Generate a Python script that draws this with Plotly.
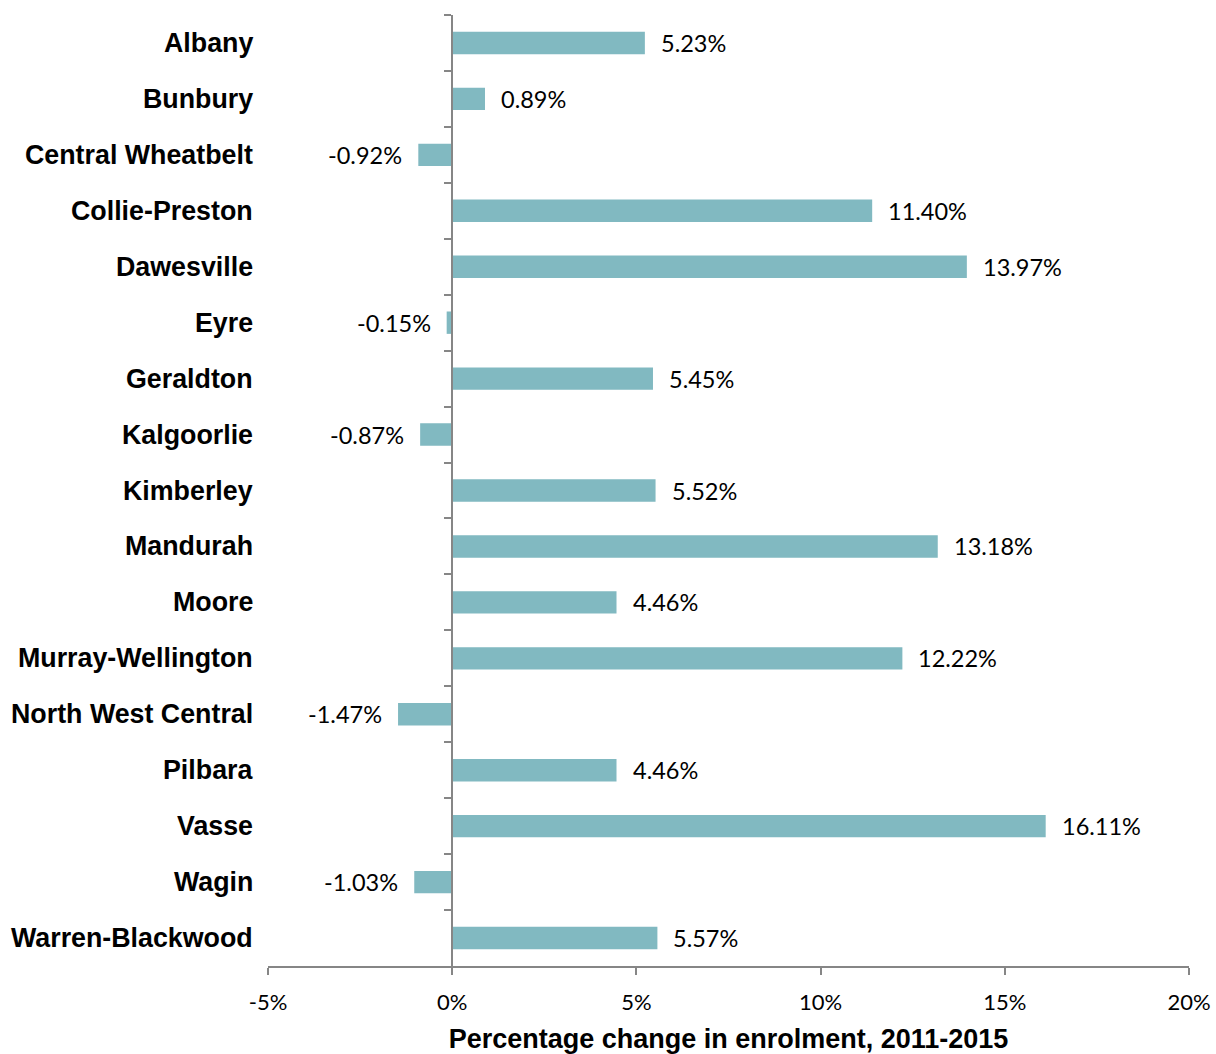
import plotly.graph_objects as go

regions = [
    "Albany", "Bunbury", "Central Wheatbelt", "Collie-Preston", "Dawesville",
    "Eyre", "Geraldton", "Kalgoorlie", "Kimberley", "Mandurah", "Moore",
    "Murray-Wellington", "North West Central", "Pilbara", "Vasse", "Wagin",
    "Warren-Blackwood",
]
change_pct = [
    5.23, 0.89, -0.92, 11.40, 13.97, -0.15, 5.45, -0.87, 5.52, 13.18, 4.46,
    12.22, -1.47, 4.46, 16.11, -1.03, 5.57,
]
x_ticks = [-5, 0, 5, 10, 15, 20]

bar_color = "#81B9C1"
axis_color = "#868686"
label_font = "Lato, Open Sans, sans-serif"
bold_font = "Liberation Sans, Arial, sans-serif"

fig = go.Figure()

fig.add_trace(
    go.Bar(
        orientation="h",
        y=regions,
        x=change_pct,
        marker=dict(color=bar_color, line_width=0),
        showlegend=False,
        hoverinfo="skip",
    )
)

# value labels next to each bar
for name, v in zip(regions, change_pct):
    fig.add_annotation(
        x=v,
        y=name,
        xref="x",
        yref="y",
        text=f"{v:.2f}%",
        showarrow=False,
        xanchor="left" if v >= 0 else "right",
        xshift=14 if v >= 0 else -14,
        font=dict(family=label_font, size=23.5, color="black"),
    )

# category labels on the far left
for name in regions:
    fig.add_annotation(
        x=0,
        y=name,
        xref="paper",
        yref="y",
        text=f"<b>{name}</b>",
        showarrow=False,
        xanchor="right",
        xshift=-13,
        font=dict(family=bold_font, size=26.8, color="black"),
    )

fig.update_layout(
    width=1216,
    height=1054,
    autosize=False,
    margin=dict(l=268, r=27, t=15, b=88),
    plot_bgcolor="white",
    paper_bgcolor="white",
    bargap=0.6,
    xaxis=dict(
        range=[-5, 20],
        tickvals=x_ticks,
        ticktext=[f"{t}%" for t in x_ticks],
        automargin=False,
        showgrid=False,
        zeroline=False,
        showline=True,
        linecolor=axis_color,
        linewidth=1.5,
        ticks="outside",
        ticklen=7,
        tickcolor=axis_color,
        tickwidth=1.5,
        ticklabelstandoff=9,
        tickfont=dict(family=label_font, size=22, color="black"),
        title=dict(
            text="<b>Percentage change in enrolment, 2011-2015</b>",
            font=dict(family=bold_font, size=27, color="black"),
            standoff=17,
        ),
    ),
    yaxis=dict(
        categoryorder="array",
        categoryarray=regions,
        range=[len(regions) - 0.5, -0.5],
        anchor="free",
        position=0.2,
        automargin=False,
        showticklabels=False,
        showgrid=False,
        zeroline=False,
        showline=True,
        linecolor=axis_color,
        linewidth=1.5,
        ticks="outside",
        tickson="boundaries",
        ticklen=7,
        tickcolor=axis_color,
        tickwidth=1.5,
    ),
)

# drop the default page margin so the figure fills the window exactly
fig.write_html(
    "out.html",
    config={"displayModeBar": False},
    post_script="document.body.style.margin='0';document.body.style.overflow='hidden';",
)
